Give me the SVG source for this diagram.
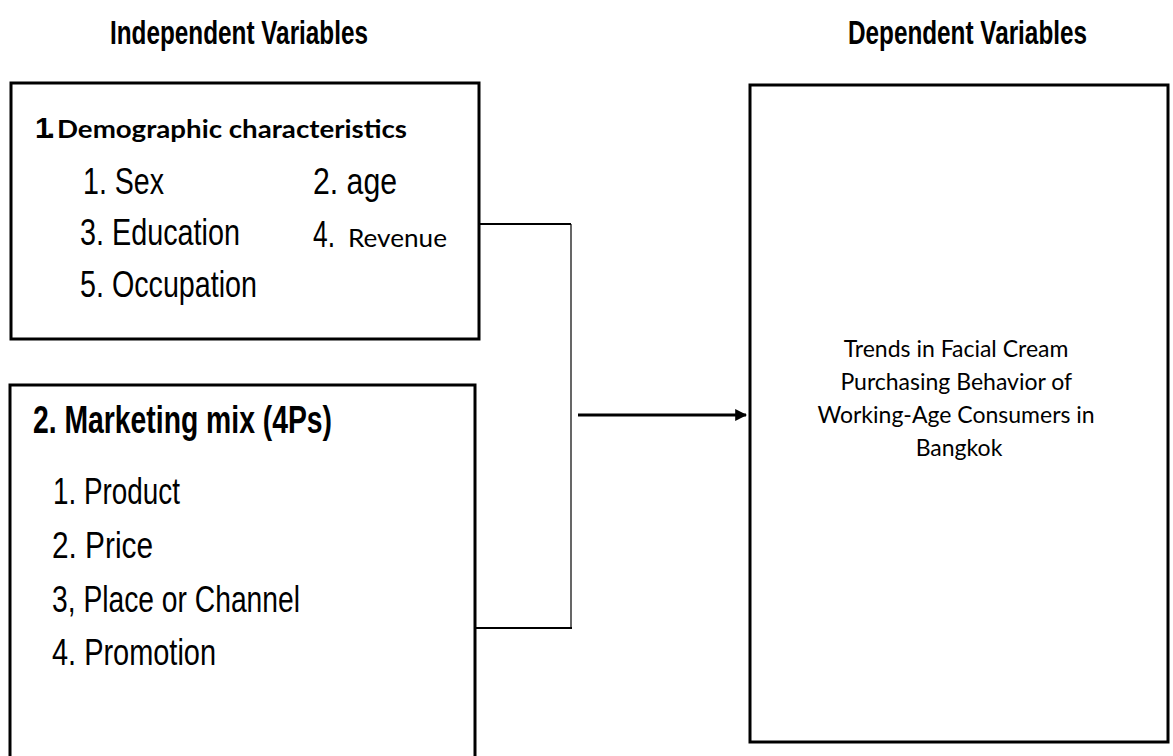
<svg xmlns="http://www.w3.org/2000/svg" width="1173" height="756" viewBox="0 0 1173 756">
<defs>
<style>
.box{fill:#fff;stroke:#000;stroke-width:3}
.nar{font-family:"Liberation Sans",Arial,sans-serif;font-size:37px;fill:#000}
.hd{font-family:"Liberation Sans",Arial,sans-serif;font-weight:bold;fill:#000}
.cal{font-family:Lato,"Open Sans",sans-serif;fill:#000}
.conn{fill:none;stroke:#000}
</style>
<marker id="arr" viewBox="0 0 10 10" refX="9" refY="5" markerWidth="4" markerHeight="4" orient="auto" markerUnits="strokeWidth">
<path d="M0,0 L10,5 L0,10 Z" fill="#000"/>
</marker>
</defs>
<rect width="1173" height="756" fill="#fff"/>
<text class="hd" x="110" y="44" font-size="33" textLength="258" lengthAdjust="spacingAndGlyphs">Independent Variables</text>
<text class="hd" x="848" y="44" font-size="33" textLength="239" lengthAdjust="spacingAndGlyphs">Dependent Variables</text>

<g id="demographic">
<rect class="box" x="11" y="83" width="468" height="256"/>
<text x="35" y="138"><tspan class="hd" font-size="30" letter-spacing="-5">1.</tspan><tspan class="cal" x="57" font-size="25" font-weight="bold" textLength="350" lengthAdjust="spacingAndGlyphs">Demographic characteristics</tspan></text>
<text class="nar" x="83" y="194" textLength="81" lengthAdjust="spacingAndGlyphs">1. Sex</text>
<text class="nar" x="313" y="194" textLength="84" lengthAdjust="spacingAndGlyphs">2. age</text>
<text class="nar" x="80" y="245" textLength="160" lengthAdjust="spacingAndGlyphs">3. Education</text>
<text class="nar" x="313" y="247" textLength="22" lengthAdjust="spacingAndGlyphs">4.</text>
<text class="cal" x="348" y="247" font-size="25.5" textLength="99" lengthAdjust="spacingAndGlyphs">Revenue</text>
<text class="nar" x="80" y="297" textLength="177" lengthAdjust="spacingAndGlyphs">5. Occupation</text>
</g>

<g id="marketing">
<rect class="box" x="10" y="385" width="465" height="390"/>
<text class="hd" x="33" y="433" font-size="38" textLength="299" lengthAdjust="spacingAndGlyphs">2. Marketing mix (4Ps)</text>
<text class="nar" x="53" y="504" textLength="127" lengthAdjust="spacingAndGlyphs">1. Product</text>
<text class="nar" x="52" y="558" textLength="101" lengthAdjust="spacingAndGlyphs">2. Price</text>
<text class="nar" x="52" y="612" textLength="248" lengthAdjust="spacingAndGlyphs">3, Place or Channel</text>
<text class="nar" x="52" y="665" textLength="164" lengthAdjust="spacingAndGlyphs">4. Promotion</text>
</g>

<g id="outcome">
<rect class="box" x="750" y="85" width="418" height="657"/>
<text class="cal" font-size="23" text-anchor="middle">
<tspan x="959" y="357">Trends in Facial Cream</tspan>
<tspan x="959" y="390">Purchasing Behavior of</tspan>
<tspan x="959" y="423">Working-Age Consumers in</tspan>
<tspan x="959" y="456">Bangkok</tspan>
</text>
</g>

<g id="connectors">
<path class="conn" d="M479 224 H571" stroke-width="2"/>
<path class="conn" d="M571 224 V629" stroke-width="1.2"/>
<path class="conn" d="M475 628 H572" stroke-width="2"/>
<line class="conn" x1="578" y1="415" x2="746" y2="415" stroke-width="3" marker-end="url(#arr)"/>
</g>
</svg>
